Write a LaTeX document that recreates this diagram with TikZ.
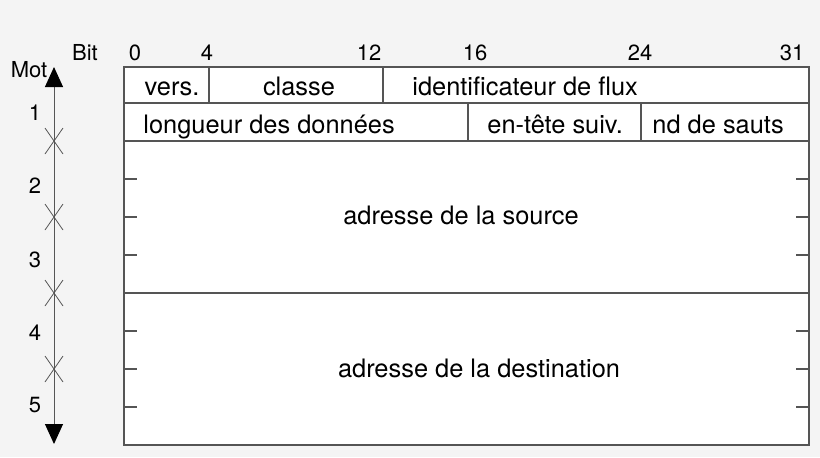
\documentclass[tikz,border=0pt]{standalone}
\usepackage{fontspec}
\setmainfont{TeX Gyre Heros}
\usetikzlibrary{arrows.meta}
\definecolor{fond}{HTML}{F4F4F4}
\definecolor{trait}{HTML}{555555}

\begin{document}
\begin{tikzpicture}[line cap=butt,line join=miter,x=0.5pt,y=-0.5pt,
  champ/.style={font=\fontsize{12.7}{15}\selectfont,inner sep=0pt},
  repere/.style={font=\fontsize{11}{13}\selectfont,inner sep=0pt},
  ligne/.style={draw=trait,line width=0.55pt}]
\fill[fond] (0,0) rectangle (820,457);
\filldraw[fill=white,ligne] (124,67) rectangle (809,445);
\foreach \y in {103,141,293}
\draw[ligne] (124,\y) -- (809,\y);
\draw[ligne] (209,67) -- (209,103);
\draw[ligne] (383,67) -- (383,103);
\draw[ligne] (468,103) -- (468,141);
\draw[ligne] (641,103) -- (641,141);
\foreach \y in {179,217,255,331,369,407}
\draw[ligne] (124,\y) -- (137,\y) (796,\y) -- (809,\y);
% axe des mots
\coordinate (haut) at (54,67);
\coordinate (bas) at (54,444);
\draw[ligne,line width=0.5pt,{Triangle[width=9pt,length=10pt,color=black]}-{Triangle[width=9pt,length=10pt,color=black]}] (haut) -- (bas);
\foreach \y in {141,217,293,369}
\draw[ligne,line width=0.4pt] (45,\y-13) -- (63,\y+13) (45,\y+13) -- (63,\y-13);
\node[repere,anchor=base] (mot) at (29,77) {Mot};
\node[repere,anchor=base] (bit) at (85,60) {Bit};
\foreach \m/\y in {1/120,2/193,3/267,4/340,5/412}
\node[repere,anchor=base] (m\m) at (35,\y) {\m};
\foreach \b/\x in {0/135,4/207,12/369,16/475,24/640,31/792}
\node[repere,anchor=base] (b\b) at (\x,60) {\b};
% champs de l'en-tete
\node[champ,anchor=base] (vers) at (172,95) {vers.};
\node[champ,anchor=base] (classe) at (299,95) {classe};
\node[champ,anchor=base west] (flux) at (412,95) {identificateur de flux};
\node[champ,anchor=base west] (longueur) at (143,133) {longueur des données};
\node[champ,anchor=base west] (suiv) at (487,133) {en-tête suiv.};
\node[champ,anchor=base west] (sauts) at (652,133) {nd de sauts};
\node[champ,anchor=base] (source) at (461,224) {adresse de la source};
\node[champ,anchor=base] (dest) at (479,377) {adresse de la destination};
\end{tikzpicture}
\end{document}
